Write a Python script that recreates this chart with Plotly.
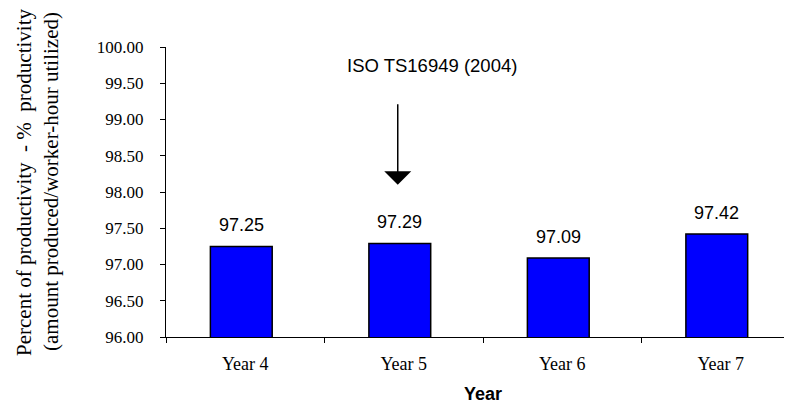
import plotly.graph_objects as go

categories = ["Year 4", "Year 5", "Year 6", "Year 7"]
productivity = [97.25, 97.29, 97.09, 97.42]
value_labels = ["97.25", "97.29", "97.09", "97.42"]
y_ticks = [96.0, 96.5, 97.0, 97.5, 98.0, 98.5, 99.0, 99.5, 100.0]
y_tick_labels = ["96.00", "96.50", "97.00", "97.50", "98.00", "98.50", "99.00", "99.50", "100.00"]
event_label = "ISO TS16949 (2004)"
event_category = "Year 5"
arrow_tip_value = 98.1
event_text_value = 99.75

W, H = 792, 406
L, R, T, B = 158, 0, 39, 77

SERIF = "Liberation Serif"
SANS = "Liberation Sans"

fig = go.Figure()
fig.add_trace(go.Bar(
    x=categories, y=productivity, width=0.39, offset=-0.22,
    marker=dict(color="#0000FF", line=dict(color="black", width=1.5)),
    hoverinfo="skip",
))

for cat, val, lab in zip(categories, productivity, value_labels):
    fig.add_annotation(
        x=cat, y=val, xref="x", yref="y", xshift=-4, yshift=9,
        text=lab, showarrow=False, xanchor="center", yanchor="bottom",
        font=dict(family=SANS, size=18, color="black"),
    )

fig.update_layout(
    width=W, height=H,
    margin=dict(l=L, r=R, t=T, b=B),
    plot_bgcolor="white", paper_bgcolor="white",
    showlegend=False,
    xaxis=dict(
        range=[-0.5, 3.5], showgrid=False, showline=True, linecolor="black", linewidth=1,
        ticks="outside", tickson="boundaries", ticklen=5, tickcolor="black",
        ticklabelstandoff=10,
        tickfont=dict(family=SERIF, size=18, color="black"),
        title=dict(text="<b>Year</b>", font=dict(family=SANS, size=18, color="black"), standoff=14),
    ),
    yaxis=dict(
        range=[96, 100], showgrid=False, showline=True, linecolor="black", linewidth=1,
        ticks="outside", ticklen=5, tickcolor="black",
        tickvals=y_ticks, ticktext=y_tick_labels, ticklabelstandoff=13,
        tickfont=dict(family=SERIF, size=17, color="black"),
        zeroline=False,
    ),
)

pw = W - L - R
ph = H - T - B
fig.add_annotation(
    x=(16 - L) / pw, y=(H - B - 174) / ph, xref="paper", yref="paper",
    text="Percent of productivity  - %  productivity", textangle=-90, showarrow=False,
    font=dict(family=SERIF, size=21, color="black"),
    xanchor="center", yanchor="middle",
)
fig.add_annotation(
    x=(43 - L) / pw, y=(H - B - 174) / ph, xref="paper", yref="paper",
    text="(amount produced/worker-hour utilized)", textangle=-90, showarrow=False,
    font=dict(family=SERIF, size=21, color="black"),
    xanchor="center", yanchor="middle",
)
# arrow
fig.add_annotation(
    x=event_category, y=arrow_tip_value, xref="x", yref="y", xshift=-6,
    text="", showarrow=True, ax=0, ay=-82, axref="pixel", ayref="pixel",
    arrowhead=1, arrowsize=3, arrowwidth=1.5, arrowcolor="black",
)
fig.add_annotation(
    x=event_category, y=event_text_value, xref="x", yref="y", xshift=28,
    text=event_label, showarrow=False,
    font=dict(family=SANS, size=18.5, color="black"),
    xanchor="center", yanchor="middle",
)

fig.write_html("out.html")
